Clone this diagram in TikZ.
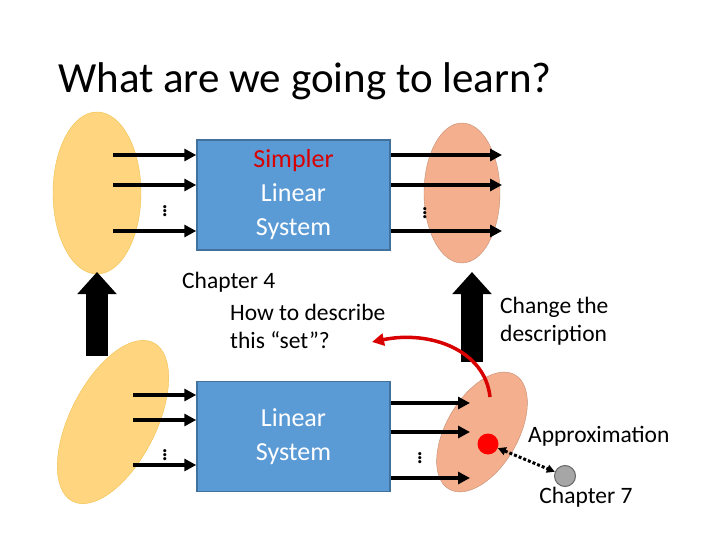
\documentclass[tikz,border=0pt]{standalone}
\usepackage{fontspec}
\setmainfont{Carlito}
\usetikzlibrary{shapes, arrows.meta, positioning, calc}
\definecolor{setyellow}{HTML}{FFD57F}
\definecolor{setgold}{HTML}{F2C14E}
\definecolor{setsalmon}{HTML}{F4B08E}
\definecolor{boxblue}{HTML}{5B9BD5}
\definecolor{boxedge}{HTML}{41719C}
\tikzset{
         myset/.style={draw=setgold, fill=setyellow, ellipse, inner sep=0pt},
         myout/.style={draw=setsalmon!80!black, fill=setsalmon, ellipse, inner sep=0pt},
         mysys/.style={draw=boxedge, fill=boxblue, line width=1.5pt, minimum width=193pt, minimum height=110pt, align=center, font=\fontsize{26}{34}\selectfont, text=white},
         mymap/.style={line width=4pt, -{Triangle[length=12pt,width=12pt]}},
         mybig/.style={line width=22pt, -{Triangle[length=22pt,width=38pt]}},
         mydots/.style={font=\fontsize{26}{26}\selectfont, inner sep=0pt},
         mytext/.style={font=\fontsize{23.5}{28}\selectfont, align=left, inner sep=0pt}
      }
\begin{document}
\begin{tikzpicture}[x=1pt,y=-1pt]
  \useasboundingbox (0,0) rectangle (720,540);
  \node[anchor=base west, inner sep=0pt, font=\fontsize{43}{46}\selectfont] (title) at (58,93) {What are we going to learn?};
  % sets
  \node[myset, minimum width=88pt, minimum height=162pt] (inA) at (97,193) {};
  \node[myout, minimum width=76pt, minimum height=140pt] (outA) at (462,193) {};
  \node[myset, minimum width=86pt, minimum height=178pt, rotate=-27] (inB) at (113,422) {};
  \node[myout, minimum width=72pt, minimum height=132pt, rotate=-30] (outB) at (482,432) {};
  % systems
  \node[mysys] (simple) at (293.5,195) {\textcolor{red!85!black}{Simpler}\\Linear\\System};
  \node[mysys] (linear) at (293.5,436.5) {Linear\\System};
  % maps
  \foreach \y/\n in {155/a,185/b,231/c}{
    \coordinate (ia\n) at (113,\y);
    \coordinate (oa\n) at (502,\y);
    \draw[mymap] (ia\n) -- (simple.west |- ia\n);
    \draw[mymap] (simple.east |- oa\n) -- (oa\n);
  }
  \foreach \y/\n in {395/a,420/b,465/c}{
    \coordinate (ib\n) at (133,\y);
    \draw[mymap] (ib\n) -- (linear.west |- ib\n);
  }
  \foreach \y/\n in {403/a,432/b,478/c}{
    \coordinate (ob\n) at (470,\y);
    \draw[mymap] (linear.east |- ob\n) -- (ob\n);
  }
  \node[mydots] (dotsA) at (165,208) {$\vdots$};
  \node[mydots] (dotsB) at (425,210) {$\vdots$};
  \node[mydots] (dotsC) at (165,452) {$\vdots$};
  \node[mydots] (dotsD) at (420,455) {$\vdots$};
  % big arrows
  \coordinate (upLs) at (97,356);
  \coordinate (upLe) at (97,272);
  \coordinate (upRs) at (472,362);
  \coordinate (upRe) at (472,272);
  \draw[mybig] (upLs) -- (upLe);
  \draw[mybig] (upRs) -- (upRe);
  % texts
  \node[mytext, anchor=north west] (ch4) at (182,272) {Chapter 4};
  \node[mytext, anchor=north west] (how) at (230,304) {How to describe\\this “set”?};
  \node[mytext, anchor=north west] (change) at (500,297) {Change the\\description};
  % points
  \node[circle, fill=red, minimum size=21pt, inner sep=0pt] (pt) at (488,444) {};
  \node[circle, draw=gray!80!black, fill=gray!70, line width=1pt, minimum size=21pt, inner sep=0pt] (approx) at (565,476) {};
  \draw[line width=3pt, dotted, {Triangle[length=8pt,width=8pt]}-{Triangle[length=8pt,width=8pt]}] (pt) -- (approx);
  \node[mytext, anchor=west] (apx) at (528,436) {Approximation};
  \node[mytext, anchor=north] (ch7) at (586,487) {Chapter 7};
  \coordinate (red0) at (490,397);
  \draw[red!85!black, line width=3.5pt, -{Triangle[length=12pt,width=12pt]}] (red0) .. controls (485,350) and (430,330) .. (372,342);
\end{tikzpicture}
\end{document}
